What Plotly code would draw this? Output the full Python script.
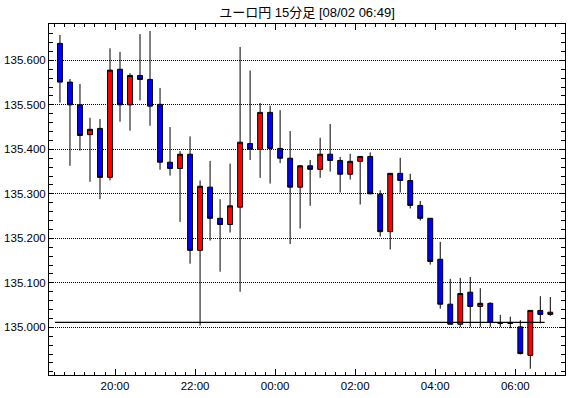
import pandas as pd
import plotly.graph_objects as go

times = [
    "2024-08-01 18:30", "2024-08-01 18:45", "2024-08-01 19:00", "2024-08-01 19:15",
    "2024-08-01 19:30", "2024-08-01 19:45", "2024-08-01 20:00", "2024-08-01 20:15",
    "2024-08-01 20:30", "2024-08-01 20:45", "2024-08-01 21:00", "2024-08-01 21:15",
    "2024-08-01 21:30", "2024-08-01 21:45", "2024-08-01 22:00", "2024-08-01 22:15",
    "2024-08-01 22:30", "2024-08-01 22:45", "2024-08-01 23:00", "2024-08-01 23:15",
    "2024-08-01 23:30", "2024-08-01 23:45", "2024-08-02 00:00", "2024-08-02 00:15",
    "2024-08-02 00:30", "2024-08-02 00:45", "2024-08-02 01:00", "2024-08-02 01:15",
    "2024-08-02 01:30", "2024-08-02 01:45", "2024-08-02 02:00", "2024-08-02 02:15",
    "2024-08-02 02:30", "2024-08-02 02:45", "2024-08-02 03:00", "2024-08-02 03:15",
    "2024-08-02 03:30", "2024-08-02 03:45", "2024-08-02 04:00", "2024-08-02 04:15",
    "2024-08-02 04:30", "2024-08-02 04:45", "2024-08-02 05:00", "2024-08-02 05:15",
    "2024-08-02 05:30", "2024-08-02 05:45", "2024-08-02 06:00", "2024-08-02 06:15",
    "2024-08-02 06:30", "2024-08-02 06:45",
]
open_ = [
    135.638, 135.551, 135.500, 135.433, 135.447, 135.337, 135.580, 135.500, 135.566, 135.557,
    135.501, 135.371, 135.357, 135.389, 135.173, 135.315, 135.245, 135.231, 135.270, 135.413,
    135.400, 135.483, 135.402, 135.380, 135.315, 135.363, 135.355, 135.389, 135.375, 135.344,
    135.373, 135.384, 135.299, 135.215, 135.346, 135.330, 135.274, 135.245, 135.153, 135.052,
    135.007, 135.079, 135.047, 135.054, 135.011, 135.011, 135.001, 134.937, 135.038, 135.029,
]
high = [
    135.657, 135.558, 135.547, 135.471, 135.468, 135.627, 135.619, 135.571, 135.659, 135.666,
    135.538, 135.450, 135.396, 135.429, 135.330, 135.374, 135.288, 135.368, 135.630, 135.577,
    135.504, 135.498, 135.488, 135.441, 135.365, 135.376, 135.426, 135.457, 135.383, 135.390,
    135.384, 135.393, 135.308, 135.346, 135.381, 135.345, 135.284, 135.245, 135.192, 135.109,
    135.111, 135.113, 135.088, 135.056, 135.028, 135.024, 135.016, 135.038, 135.070, 135.068,
]
low = [
    135.505, 135.363, 135.397, 135.327, 135.288, 135.330, 135.462, 135.442, 135.510, 135.453,
    135.354, 135.341, 135.237, 135.143, 135.004, 135.195, 135.125, 135.213, 135.080, 135.376,
    135.336, 135.323, 135.369, 135.187, 135.222, 135.273, 135.336, 135.350, 135.303, 135.332,
    135.276, 135.299, 135.204, 135.175, 135.303, 135.267, 135.240, 135.141, 135.042, 135.007,
    135.001, 135.001, 135.001, 135.001, 135.001, 134.998, 134.939, 134.907, 135.009, 135.026,
]
close = [
    135.551, 135.500, 135.431, 135.445, 135.337, 135.578, 135.500, 135.566, 135.557, 135.497,
    135.371, 135.357, 135.389, 135.173, 135.317, 135.245, 135.231, 135.273, 135.416, 135.400,
    135.483, 135.402, 135.380, 135.315, 135.363, 135.355, 135.389, 135.375, 135.344, 135.373,
    135.384, 135.300, 135.215, 135.346, 135.330, 135.274, 135.245, 135.148, 135.052, 135.007,
    135.076, 135.047, 135.054, 135.011, 135.009, 135.009, 134.941, 135.038, 135.029, 135.034,
]
y_ticks = [135.0, 135.1, 135.2, 135.3, 135.4, 135.5, 135.6]
y_tick_labels = ["135.000", "135.100", "135.200", "135.300", "135.400", "135.500", "135.600"]
ref_level = 135.011
ref_span = ["2024-08-01 18:30", "2024-08-02 06:44"]
title_text = "ユーロ円 15分足 [08/02 06:49]"

# candles are drawn centred in their 15-minute slot
centers = pd.to_datetime(times) + pd.Timedelta(minutes=7.5)

font_main = "Liberation Sans, Arial, Noto Sans CJK JP"

fig = go.Figure()
fig.add_trace(go.Scatter(
    x=pd.to_datetime(ref_span), y=[ref_level, ref_level], mode="lines",
    line=dict(color="black", width=1.2), hoverinfo="skip", showlegend=False,
))
fig.add_trace(go.Candlestick(
    x=centers, open=open_, high=high, low=low, close=close,
    increasing=dict(fillcolor="#ff0000", line=dict(color="black", width=1)),
    decreasing=dict(fillcolor="#0000ff", line=dict(color="black", width=1)),
    whiskerwidth=0, showlegend=False,
))

fig.update_layout(
    width=570, height=398,
    margin=dict(l=49, r=5, t=24, b=23, autoexpand=False),
    paper_bgcolor="white", plot_bgcolor="white",
    font=dict(family=font_main, size=12, color="black"),
    title=dict(text=title_text, x=0.5, xref="paper", xanchor="center",
               y=1, yref="container", yanchor="top", pad=dict(t=8),
               font=dict(family=font_main, size=13, color="black")),
    showlegend=False,
    xaxis=dict(
        type="date", automargin=False,
        range=[pd.Timestamp("2024-08-01 18:21:04"), pd.Timestamp("2024-08-02 07:14:30")],
        rangeslider=dict(visible=False),
        tickformat="%H:%M", dtick=7200000, tick0="2024-08-01 20:00",
        ticks="inside", ticklen=6, tickcolor="black", tickwidth=1,
        minor=dict(dtick=900000, tick0="2024-08-01 20:00", ticks="inside",
                   ticklen=3, tickcolor="black", showgrid=False),
        showline=True, linecolor="black", linewidth=1, mirror="ticks",
        showgrid=False, zeroline=False,
        tickfont=dict(size=11.5),
    ),
    yaxis=dict(
        automargin=False,
        range=[134.8929, 135.6816],
        tickmode="array", tickvals=y_ticks, ticktext=y_tick_labels,
        ticks="inside", ticklen=5, tickcolor="black", tickwidth=1,
        minor=dict(dtick=0.02, tick0=135.0, ticks="inside", ticklen=4,
                   tickcolor="black", showgrid=False),
        showline=True, linecolor="black", linewidth=1, mirror="ticks",
        showgrid=True, gridcolor="black", gridwidth=1, griddash="1px,1px",
        zeroline=False,
        tickfont=dict(size=11.5),
    ),
)

fig.write_html("out.html", config={"displayModeBar": False},
               post_script="document.body.style.margin='0px';")
